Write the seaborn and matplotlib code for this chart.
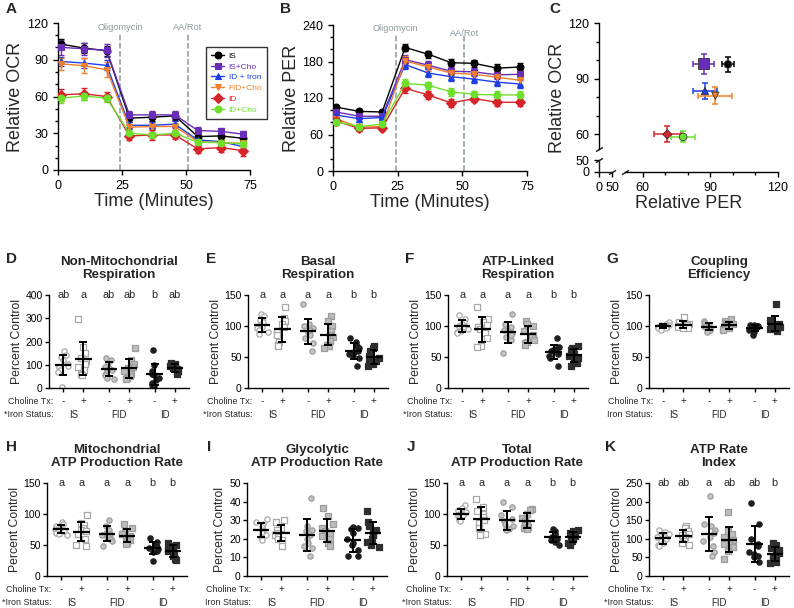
import numpy as np
import pandas as pd
import matplotlib.pyplot as plt
from matplotlib.ticker import FixedLocator, MultipleLocator
import seaborn as sns

# ---- series for panels A-C ----
groups = ['IS', 'IS+Cho', 'ID + Iron', 'FID+Cho', 'ID', 'ID+Cho']
colors = ['#000000', '#6a2db8', '#1d3fe6', '#f0802a', '#d8232a', '#6ee02c']
markers = ['o', 's', '^', 'v', 'D', 'o']

times = [1.2, 10.1, 19.0, 27.9, 36.8, 45.7, 54.6, 63.5, 72.4]

ocr_is = [102.8, 99.5, 97.4, 42.3, 43.1, 44.2, 27.3, 27.8, 25.9]
ocr_ischo = [100.1, 99.0, 97.6, 45.0, 45.0, 45.0, 32.2, 31.6, 29.2]
ocr_idiron = [88.6, 87.3, 85.4, 36.5, 36.5, 37.4, 24.5, 23.2, 19.1]
ocr_fidcho = [86.7, 85.1, 81.8, 34.9, 35.5, 35.5, 23.2, 22.4, 21.8]
ocr_id = [61.4, 62.2, 60.0, 27.8, 28.6, 28.6, 17.2, 18.3, 15.8]
ocr_idcho = [58.6, 60.5, 58.6, 30.0, 28.6, 30.0, 22.6, 22.4, 21.3]

ocr_is_err = [4, 4, 4, 3, 3, 3, 3, 3, 3]
ocr_ischo_err = [6, 5, 5, 3, 3, 3, 3, 3, 3]
ocr_idiron_err = [4, 4, 4, 3, 3, 3, 3, 3, 3]
ocr_fidcho_err = [5, 6, 6, 3, 3, 3, 3, 3, 3]
ocr_id_err = [5, 5, 4, 3, 4, 3, 3, 4, 4]
ocr_idcho_err = [4, 3, 3, 2, 2, 2, 2, 2, 2]

per_is = [105, 98, 97, 203, 192, 178, 177, 169, 171]
per_ischo = [97, 90, 90, 183, 174, 164, 163, 158, 159]
per_idiron = [92, 86, 88, 175, 161, 155, 151, 146, 143]
per_fidcho = [86, 72, 73, 181, 171, 161, 159, 154, 149]
per_id = [82, 70, 71, 136, 125, 112, 119, 113, 113]
per_idcho = [81, 73, 77, 144, 141, 130, 126, 125, 125]

per_is_err = [4, 4, 4, 6, 6, 6, 6, 7, 7]
per_ischo_err = [5, 5, 5, 7, 7, 7, 7, 7, 7]
per_idiron_err = [5, 5, 5, 8, 7, 7, 7, 7, 7]
per_fidcho_err = [6, 6, 6, 8, 7, 7, 7, 7, 7]
per_id_err = [6, 5, 5, 8, 6, 6, 6, 6, 6]
per_idcho_err = [6, 5, 5, 7, 6, 6, 6, 6, 6]

# panel C: mean PER / OCR with errors
c_per = [97.8, 87.0, 87.6, 92.2, 70.9, 77.9]
c_ocr = [97.7, 98.0, 83.4, 80.8, 60.0, 58.6]
c_per_err = [2.6, 4.6, 5.5, 7.6, 6.0, 5.5]
c_ocr_err = [4.0, 5.4, 4.2, 4.7, 4.4, 3.0]

# ---- panels D-K: individual values (IS-, IS+, FID-, FID+, ID-, ID+) ----
nonmito = [[158, 140, 132, 120, 105, 95, 90, 76, 68, 5],
           [296, 175, 150, 130, 118, 105, 90, 78, 62, 55],
           [130, 122, 108, 92, 84, 76, 65, 55, 45, 38],
           [172, 120, 105, 92, 84, 74, 62, 52, 45, 40],
           [163, 100, 75, 62, 55, 45, 35, 22, 15, 10],
           [108, 105, 102, 96, 92, 86, 80, 74, 68, 60]]
basal = [[119, 116, 110, 106, 102, 99, 96, 93, 90, 87],
         [131, 113, 108, 104, 98, 92, 86, 75, 70, 67],
         [135, 103, 100, 96, 93, 90, 86, 80, 73, 59],
         [116, 108, 100, 92, 86, 82, 76, 70, 67, 65],
         [80, 74, 68, 64, 60, 58, 55, 52, 48, 35],
         [67, 64, 60, 56, 52, 48, 44, 40, 38, 35]]
atplinked = [[117, 112, 107, 103, 100, 98, 95, 92, 90, 88],
             [131, 112, 106, 102, 99, 95, 88, 80, 68, 66],
             [120, 104, 98, 94, 90, 88, 85, 82, 78, 57],
             [108, 104, 100, 92, 86, 82, 78, 74, 72, 70],
             [81, 66, 63, 61, 59, 57, 55, 52, 48, 36],
             [68, 65, 62, 58, 55, 52, 49, 44, 40, 36]]
coupling = [[106, 103, 102, 101, 100, 99, 98, 97, 96, 94],
            [115, 106, 104, 102, 101, 100, 99, 98, 97, 96],
            [108, 105, 102, 100, 99, 98, 97, 95, 93, 90],
            [112, 108, 105, 103, 101, 100, 99, 97, 95, 94],
            [102, 101, 100, 100, 99, 98, 96, 93, 90, 86],
            [135, 110, 106, 104, 102, 100, 99, 97, 95, 92]]
mitoatp = [[87, 84, 81, 78, 76, 74, 72, 70, 68, 66],
           [99, 86, 82, 78, 74, 72, 68, 60, 50, 48],
           [91, 80, 75, 70, 68, 66, 63, 60, 56, 49],
           [84, 78, 72, 68, 64, 61, 58, 56, 54, 52],
           [62, 55, 50, 48, 46, 45, 43, 41, 38, 25],
           [53, 50, 48, 45, 42, 40, 36, 32, 28, 26]]
glycoatp = [[30.5, 29, 28, 26.5, 25, 24, 23, 22, 21, 19.5],
            [30, 29, 26, 24.5, 23, 22, 21, 20, 19.5, 16],
            [42, 27, 25, 24, 22, 20, 18, 16, 15, 11],
            [36.5, 32, 28, 26, 24, 23, 21.5, 20, 17.5, 16],
            [26.5, 26, 25.5, 23, 20, 18, 16.5, 14, 11, 10.5],
            [35, 29, 27, 24.5, 23, 22, 20, 18.5, 16.5, 15.5]]
totalatp = [[114, 110, 106, 103, 100, 98, 96, 93, 90, 88],
            [125, 112, 105, 100, 95, 90, 85, 78, 68, 66],
            [119, 111, 98, 92, 88, 84, 80, 78, 76, 74],
            [108, 106, 100, 94, 88, 85, 82, 79, 77, 76],
            [76, 72, 68, 65, 63, 61, 60, 58, 55, 50],
            [75, 73, 70, 67, 65, 62, 60, 57, 54, 50]]
rateindex = [[124, 118, 113, 108, 104, 100, 95, 90, 84, 80],
             [135, 128, 120, 114, 110, 106, 100, 95, 88, 82],
             [215, 140, 135, 125, 115, 105, 95, 80, 65, 55],
             [172, 122, 112, 104, 98, 92, 85, 78, 68, 45],
             [196, 140, 100, 86, 80, 65, 58, 54, 50, 38],
             [88, 82, 76, 70, 62, 56, 50, 42, 38, 35]]

sig_nonmito = ['ab', 'a', 'ab', 'ab', 'b', 'ab']
sig_std = ['a', 'a', 'a', 'a', 'b', 'b']
sig_rate = ['ab', 'ab', 'a', 'ab', 'ab', 'b']

choline = ['-', '+', '-', '+', '-', '+']
iron = ['IS', 'FID', 'ID']

# ---- style ----
sns.set_theme(style='ticks')
plt.rcParams['font.family'] = ['Liberation Sans', 'DejaVu Sans']
plt.rcParams['axes.linewidth'] = 1.0
plt.rcParams['xtick.major.width'] = 1.0
plt.rcParams['ytick.major.width'] = 1.0
plt.rcParams['xtick.major.size'] = 3.5
plt.rcParams['ytick.major.size'] = 3.5
plt.rcParams['xtick.minor.size'] = 2
plt.rcParams['ytick.minor.size'] = 2
plt.rcParams['axes.edgecolor'] = 'black'
plt.rcParams['xtick.color'] = 'black'
plt.rcParams['ytick.color'] = 'black'

W, H = 794, 608
fig = plt.figure(figsize=(W / 100, H / 100), dpi=100)


def px_axes(left, top, right, bottom):
    return fig.add_axes([left / W, 1 - bottom / H, (right - left) / W, (bottom - top) / H])


def letter(x, y, s):
    fig.text(x / W, 1 - y / H, s, fontsize=11, fontweight='bold', ha='left', va='center')


pal = dict(zip(groups, colors))
mk = dict(zip(groups, markers))


def time_panel(ax, series, errs, ymax, ystep, yminor, ylabel, olig_y, aa_y):
    df = pd.DataFrame({'time': times * len(groups),
                       'value': sum(series, []),
                       'group': np.repeat(groups, len(times))})
    for vals, err, c in zip(series, errs, colors):
        ax.errorbar(times, vals, yerr=err, fmt='none', ecolor=c, elinewidth=1,
                    capsize=2.5, capthick=1, zorder=2)
    sns.lineplot(data=df, x='time', y='value', hue='group', style='group',
                 hue_order=groups, style_order=groups, palette=pal, markers=mk,
                 dashes=False, markersize=5, linewidth=1, markeredgecolor='auto',
                 ax=ax, zorder=3)
    for x, lab, yy in [(24.2, 'Oligomycin', olig_y), (50.7, 'AA/Rot', aa_y)]:
        ax.axvline(x, ymin=0, ymax=0.93, ls='--', color='#8c9aa0', lw=1.1, zorder=1)
        ax.text(x, yy, lab, transform=ax.get_xaxis_transform(), ha='center', va='center',
                fontsize=6.7, color='#8c9aa0')
    ax.set_xlim(0, 75)
    ax.set_ylim(0, ymax)
    ax.set_xticks([0, 25, 50, 75])
    ax.yaxis.set_major_locator(MultipleLocator(ystep))
    ax.yaxis.set_minor_locator(MultipleLocator(yminor))
    ax.tick_params(labelsize=9)
    ax.set_xlabel('Time (Minutes)', fontsize=13, labelpad=1)
    ax.set_ylabel(ylabel, fontsize=13, labelpad=2)
    sns.despine(ax=ax)


# ---- A ----
axA = px_axes(58, 23, 250, 170)
time_panel(axA, [ocr_is, ocr_ischo, ocr_idiron, ocr_fidcho, ocr_id, ocr_idcho],
           [ocr_is_err, ocr_ischo_err, ocr_idiron_err, ocr_fidcho_err, ocr_id_err, ocr_idcho_err],
           120, 30, 10, 'Relative OCR', 0.97, 0.97)
handles, labels = axA.get_legend_handles_labels()
leg = axA.legend(handles, labels, loc='upper left', bbox_to_anchor=(0.75, 0.865),
                 fontsize=6, frameon=True, fancybox=False, edgecolor='black',
                 handlelength=1.6, borderpad=0.6, labelspacing=0.35, handletextpad=0.5)
leg.get_frame().set_linewidth(1.0)
for t, c in zip(leg.get_texts(), colors):
    t.set_color(c)
letter(6, 9, 'A')

# ---- B ----
axB = px_axes(333, 25, 527, 171)
time_panel(axB, [per_is, per_ischo, per_idiron, per_fidcho, per_id, per_idcho],
           [per_is_err, per_ischo_err, per_idiron_err, per_fidcho_err, per_id_err, per_idcho_err],
           240, 60, 20, 'Relative PER', 0.975, 0.945)
axB.get_legend().remove()
letter(280, 9, 'B')

# ---- C ----
axC = px_axes(599, 23, 778, 172)
xk_in, xk_out = [0, 50, 52, 120], [40.6, 46.4, 52, 120]
yk_in, yk_out = [0, 50, 52, 120], [39.7, 46.0, 52, 120]
axC.set_xscale('function', functions=(lambda v: np.interp(v, xk_in, xk_out),
                                      lambda v: np.interp(v, xk_out, xk_in)))
axC.set_yscale('function', functions=(lambda v: np.interp(v, yk_in, yk_out),
                                      lambda v: np.interp(v, yk_out, yk_in)))
axC.set_xlim(0, 120)
axC.set_ylim(0, 120)
for i in range(len(groups)):
    axC.errorbar(c_per[i], c_ocr[i], xerr=c_per_err[i], yerr=c_ocr_err[i], fmt='none',
                 ecolor=colors[i], elinewidth=1.1, capsize=2.5, capthick=1.1, zorder=2)
cdf = pd.DataFrame({'per': c_per, 'ocr': c_ocr, 'group': groups})
sns.scatterplot(data=cdf, x='per', y='ocr', hue='group', style='group', hue_order=groups,
                palette=pal, markers=mk, size='group',
                sizes=dict(zip(groups, [30, 60, 28, 28, 22, 30])),
                edgecolor='#333333', linewidth=0.6, legend=False, ax=axC, zorder=3)
axC.xaxis.set_major_locator(FixedLocator([0, 50, 60, 90, 120]))
axC.xaxis.set_minor_locator(FixedLocator([70, 80, 100, 110]))
axC.yaxis.set_major_locator(FixedLocator([0, 50, 60, 90, 120]))
axC.yaxis.set_minor_locator(FixedLocator([70, 80, 100, 110]))
axC.tick_params(labelsize=9)
axC.set_xlabel('Relative PER', fontsize=13, labelpad=1)
axC.set_ylabel('Relative OCR', fontsize=13, labelpad=2)
sns.despine(ax=axC)
axC.spines['left'].set_bounds(52, 120)
axC.spines['bottom'].set_bounds(52, 120)
axC.plot([0, 0], [0, 50], transform=axC.get_yaxis_transform(), color='k', lw=1, clip_on=False)
axC.plot([0, 50], [0, 0], transform=axC.get_xaxis_transform(), color='k', lw=1, clip_on=False)
brk = dict(marker=[(-1, -0.6), (1, 0.6)], markersize=5, linestyle='none', color='k',
           mec='k', mew=1, clip_on=False)
axC.plot([0, 0], [50, 52], transform=axC.get_yaxis_transform(), **brk)
axC.plot([50, 52], [0, 0], transform=axC.get_xaxis_transform(), **brk)
letter(549, 9, 'C')

# ---- D-K ----
positions = [0, 1, 2.25, 3.25, 4.5, 5.5]
strip_style = [('o', 'white', '#a8a8a8'), ('s', 'white', '#a8a8a8'),
               ('o', '#c4c4c4', '#9c9c9c'), ('s', '#bdbdbd', '#9c9c9c'),
               ('o', '#1e1e1e', '#1e1e1e'), ('s', '#2e2e2e', '#2e2e2e')]

np.random.seed(3)


def strip_panel(left, top, values, ymax, ystep, title, lab, lab_x, sig, star):
    ax = px_axes(left, top, left + 140, top + 93)
    for pos, vals, (m, fc, ec) in zip(positions, values, strip_style):
        sns.stripplot(x=[pos] * len(vals), y=vals, native_scale=True, orient='x',
                      jitter=0.3, size=3.8, marker=m, color=fc, edgecolor=ec,
                      linewidth=0.9, ax=ax, zorder=2)
        mean, sd = np.mean(vals), np.std(vals, ddof=1)
        ax.errorbar(pos, mean, yerr=sd, fmt='none', ecolor='black', elinewidth=1.4,
                    capsize=3.2, capthick=1.4, zorder=4)
        ax.hlines(mean, pos - 0.4, pos + 0.4, color='black', lw=1.6, zorder=4)
    ax.set_xlim(-0.7, 6.2)
    ax.set_ylim(0, ymax)
    ax.yaxis.set_major_locator(MultipleLocator(ystep))
    ax.set_xticks(positions)
    ax.set_xticklabels([])
    ax.tick_params(axis='y', labelsize=7.5, length=3, pad=1.5)
    ax.tick_params(axis='x', length=3)
    ax.set_ylabel('Percent Control', fontsize=8.8, labelpad=2)
    ax.set_title(title, fontsize=9.6, fontweight='bold', pad=12, linespacing=1.15)
    sns.despine(ax=ax)
    tr = ax.get_xaxis_transform()
    if sig:
        for pos, s in zip(positions, sig):
            ax.text(pos, 1.0, s, transform=tr, ha='center', va='center', fontsize=7.8)
    for pos, s in zip(positions, choline):
        ax.text(pos, -0.145, s, transform=tr, ha='center', va='center', fontsize=7)
    for k, s in enumerate(iron):
        mid = (positions[2 * k] + positions[2 * k + 1]) / 2
        ax.text(mid, -0.285, s, transform=tr, ha='center', va='center', fontsize=7)
    ax.text(0.03, -0.145, 'Choline Tx:', transform=ax.transAxes, ha='right', va='center',
            fontsize=6.4)
    ax.text(0.03, -0.285, ('*' if star else '') + 'Iron Status:', transform=ax.transAxes,
            ha='right', va='center', fontsize=6.4)
    letter(lab_x, top - 36, lab)
    return ax


strip_panel(49, 295, nonmito, 400, 100, 'Non-Mitochondrial\nRespiration', 'D', 6, sig_nonmito, True)
strip_panel(248, 295, basal, 150, 50, 'Basal\nRespiration', 'E', 206, sig_std, True)
strip_panel(448, 295, atplinked, 150, 50, 'ATP-Linked\nRespiration', 'F', 405, sig_std, True)
strip_panel(649, 295, coupling, 150, 50, 'Coupling\nEfficiency', 'G', 606, None, False)
strip_panel(47, 483, mitoatp, 150, 50, 'Mitochondrial\nATP Production Rate', 'H', 6, sig_std, True)
strip_panel(247, 483, glycoatp, 50, 10, 'Glycolytic\nATP Production Rate', 'I', 207, None, False)
strip_panel(447, 483, totalatp, 150, 50, 'Total\nATP Production Rate', 'J', 407, sig_std, True)
strip_panel(649, 483, rateindex, 250, 50, 'ATP Rate\nIndex', 'K', 605, sig_rate, True)

fig.savefig('out.png', dpi=100)
